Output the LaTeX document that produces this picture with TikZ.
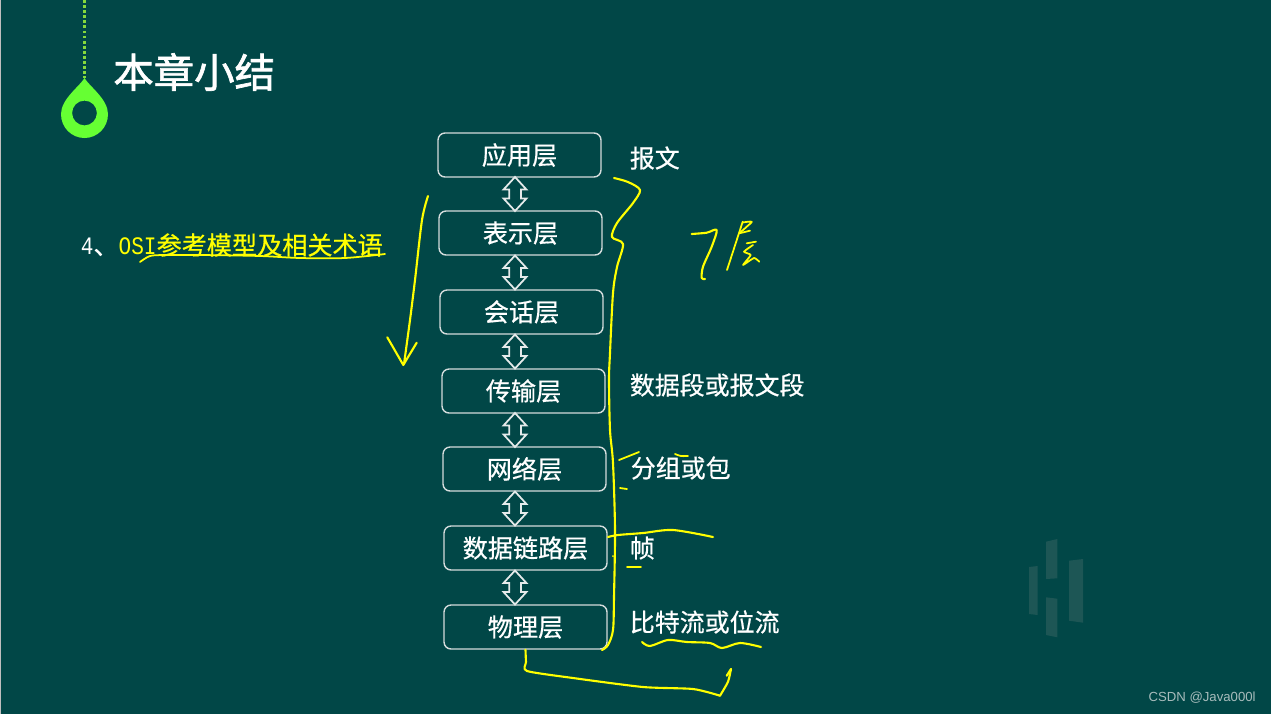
\documentclass[tikz,border=0pt]{standalone}
\usepackage{fontspec}
\usepackage{tikz}
\usetikzlibrary{shapes.arrows}
\setmainfont{Noto Sans CJK SC}[FakeBold=.6]
\newfontfamily\titlefont{Noto Sans CJK SC}[FakeBold=1.6]
\newfontfamily\monolatin{Liberation Mono}[FakeStretch=.84]
\newfontfamily\wmfont{Liberation Sans}
\definecolor{boardbg}{HTML}{014747}
\definecolor{dropgreen}{HTML}{66FF33}
\definecolor{dotgreen}{HTML}{86D83C}
\definecolor{inkyellow}{HTML}{FFFF00}
\definecolor{boxline}{HTML}{D4DCDC}
\definecolor{logobar}{HTML}{1D5655}
\definecolor{wmgrey}{HTML}{A8BCBC}
\tikzset{
  layerbox/.style={draw=boxline,line width=.8pt,rounded corners=.14cm,text=white,
    minimum width=3.26cm,minimum height=.88cm,inner sep=0pt,font=\fontsize{14.3pt}{17pt}\selectfont},
  pduname/.style={anchor=west,inner sep=0pt,text=white,font=\fontsize{14.2pt}{17pt}\selectfont},
  updown/.style={draw=boxline!60!white,fill=boardbg,line width=1pt,shape=double arrow,rotate=90,inner sep=.1cm,
    minimum height=.68cm,minimum width=.42cm,double arrow head extend=.11cm,double arrow tip angle=85},
  inkline/.style={draw=inkyellow,line width=1.2pt,line cap=round,line join=round},
  inkthin/.style={inkline,line width=1pt},
}
\begin{document}
\begin{tikzpicture}[x=.02cm,y=-.02cm]
\useasboundingbox (0,0) rectangle (1271,714);
\fill[boardbg] (0,0) rectangle (1271,714);
\fill[gray!50] (0,0) rectangle (1,714);
\draw[dotgreen,line width=1.3pt,dash pattern=on 1.6pt off 1.3pt] (84.5,0)--(84.5,78);
\fill[dropgreen,even odd rule] (84.5,78) .. controls (80,86) and (61,99) .. (61,114) .. controls (61,128) and (72,138) .. (84.5,138)
  .. controls (97,138) and (108,128) .. (108,114) .. controls (108,99) and (89,86) .. (84.5,78) -- cycle
  (84.5,113) circle [radius=12.4];
\node[anchor=west,inner sep=0pt,text=white,font=\fontsize{23pt}{27pt}\titlefont] (title) at (113,72) {本章小结};
\node[anchor=west,inner sep=0pt,text=white,font=\fontsize{14.3pt}{17pt}\selectfont] (topic) at (80.5,245)
  {{\monolatin 4}、\textcolor{inkyellow}{{\monolatin OSI}参考模型及相关术语}};
\node[layerbox] (yingyong) at (519.5,155) {\raisebox{.6pt}{应用层}};
\node[layerbox] (biaoshi) at (520.5,233) {表示层};
\node[layerbox] (huihua) at (521.5,312) {会话层};
\node[layerbox] (chuanshu) at (523.5,391) {传输层};
\node[layerbox] (wangluo) at (524.5,469) {网络层};
\node[layerbox] (lianlu) at (525.5,548) {数据链路层};
\node[layerbox] (wuli) at (525.5,627) {物理层};
\coordinate (linkx) at (515,0);
\foreach \upper/\lower in {yingyong/biaoshi,biaoshi/huihua,huihua/chuanshu,chuanshu/wangluo,wangluo/lianlu,lianlu/wuli}
  \path (\upper.south-|linkx) -- node[updown] {} (\lower.north-|linkx);
\node[pduname] (baowen) at (629.5,158) {报文};
\node[pduname] (duan) at (629.5,385) {数据段或报文段};
\node[pduname] (fenzu) at (630.5,468) {分组或包};
\node[pduname] (zhen) at (629.5,548) {帧};
\node[pduname] (bitliu) at (629.5,622) {比特流或位流};
\draw[inkthin] plot[smooth,tension=.5] coordinates {(140,262) (150,256) (165,255) (200,255) (260,256) (300,258) (345,258) (385,254)};
\draw[inkline] plot[smooth,tension=.5] coordinates {(428,196) (422,220) (415,280) (410,320) (404,364)};
\draw[inkline] (387.3,337.3)--(403.3,365)--(416.7,342.7);
\draw[inkline] plot[smooth,tension=.5] coordinates {(614,178) (628,182) (640,190) (633,203) (617,223) (612,237) (623,244) (617,267) (613,293) (610,353) (609,380) (610,430) (613,463) (615,530) (614,597) (613,630) (608,645) (602,650)};
\draw[inkline] plot[smooth,tension=.5] coordinates {(691.7,234) (706.7,232.7) (716.7,230) (711.7,246.7) (703,266.7) (701.7,278) (705,279)};
\draw[inkthin] (742.7,221.7)--(727,270);
\draw[inkthin] plot[smooth,tension=.5] coordinates {(742.7,222.5) (751.7,221.7) (746.7,226.7) (739.3,233.3)};
\draw[inkthin] (739.3,233.3)--(750,230.7);
\draw[inkthin] (746.7,243.3)--(756,241.7);
\draw[inkthin] plot[smooth,tension=.3] coordinates {(753,245) (744,251.7) (750.7,255) (743,265) (754,258) (759.3,261.7)};
\draw[inkthin] (619,460)--(639,452);
\draw[inkthin] plot[smooth,tension=.5] coordinates {(675,454) (681,456) (688,456)};
\draw[inkthin] (620,488)--(627,489);
\draw[inkline] plot[smooth,tension=.5] coordinates {(608,537) (618,535) (643,533) (673,530) (713,537)};
\fill[inkyellow] (613,556) circle [radius=1];
\draw[inkthin] (627,567)--(641,567);
\draw[inkline] plot[smooth,tension=.5] coordinates {(642,642) (650,646) (668,640) (687,642) (710,643) (722,648) (740,643) (761,647)};
\draw[inkline] plot[smooth,tension=.4] coordinates {(wuli.south) (526,662) (527,671) (573,678) (643,687) (693,689) (720,695.7)};
\draw[inkline] plot[smooth,tension=.4] coordinates {(720,695.7) (728,681.7) (731,669)};
\draw[inkline] (726.7,675.7)--(731,669);
\fill[logobar] (1029,567)--(1037.7,566)--(1037.7,615)--(1029,614)--cycle;
\fill[logobar] (1046,541.7)--(1057.3,539)--(1057.3,578.3)--(1046,579)--cycle;
\fill[logobar] (1046,597.3)--(1057.3,598.7)--(1057.3,637.3)--(1046,635)--cycle;
\fill[logobar] (1069,560.7)--(1083,559)--(1083,622.7)--(1069,620.7)--cycle;
\node[anchor=east,inner sep=0pt,text=wmgrey,font=\wmfont\fontsize{7.5pt}{9pt}\selectfont] (wmark) at (1256,698) {CSDN @Java000l};
\end{tikzpicture}
\end{document}
